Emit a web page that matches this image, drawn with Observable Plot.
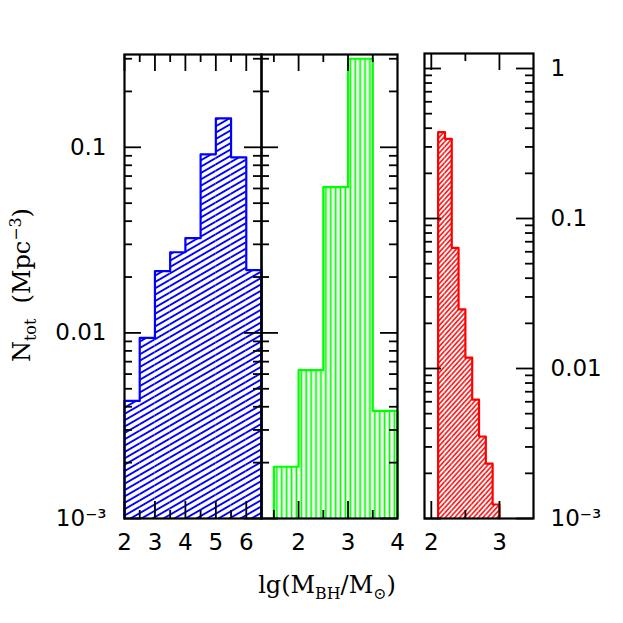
<!DOCTYPE html>
<html><head><meta charset="utf-8">
<script src="https://cdn.jsdelivr.net/npm/d3@7"></script>
<script src="https://cdn.jsdelivr.net/npm/@observablehq/plot@0.6"></script>
<style>
body{margin:0;background:#fff;}
#chart{position:relative;width:623px;height:623px;overflow:hidden;background:#fff;}
#chart svg{position:absolute;left:0;top:0;}
.title{position:absolute;font-family:"DejaVu Serif";font-size:24px;white-space:nowrap;color:#000;line-height:1;}
.title sub,.title sup{font-size:66%;line-height:0;}
</style></head><body>
<div id="chart"></div>
<script>
// ---- data ----
const blueEdges  = [2, 2.5, 3, 3.5, 4, 4.5, 5, 5.5, 6, 6.5];
const blueN      = [0.0043, 0.0094, 0.0215, 0.0272, 0.0324, 0.0916, 0.143, 0.0883, 0.0218];
const greenEdges = [1.5, 2, 2.5, 3, 3.5, 4];
const greenN     = [0.0019, 0.0063, 0.061, 0.30, 0.0038];
const redEdges   = [2.1, 2.2, 2.3, 2.4, 2.5, 2.6, 2.7, 2.8, 2.9, 3.0];
const redN       = [0.376, 0.34, 0.0638, 0.0248, 0.0118, 0.0062, 0.00352, 0.00232, 0.00124];

const xTicks1 = [2, 3, 4, 5, 6];
const xTicks2 = [2, 3, 4];
const xTicks3 = [2, 3];
const yLabelsLeft  = [0.001, 0.01, 0.1];
const yLabelsRight = [0.001, 0.01, 0.1, 1];

const W = 623, H = 623;
const chart = document.getElementById("chart");

function minorLog(lo, hi) {
  const out = [];
  for (let e = -4; e <= 1; e++) for (let m = 2; m <= 9; m++) {
    const v = m * Math.pow(10, e);
    if (v > lo && v < hi) out.push(v);
  }
  return out;
}
function fmtY(d) { return d === 0.001 ? "10\u207B\u00B3" : String(d); }

function panel(o) {
  const fw = o.right - o.left, fh = o.bottom - o.top;
  const bins = o.values.map((v, i) => ({x1: o.edges[i], x2: o.edges[i + 1], v}));
  const y0 = o.yDomain[0];
  const outline = [{x: o.edges[0], y: y0}, ...bins.map(b => ({x: b.x1, y: b.v})),
    {x: o.edges[o.edges.length - 1], y: o.values[o.values.length - 1]},
    {x: o.edges[o.edges.length - 1], y: y0}];
  const yMajor = [0.001, 0.01, 0.1, 1].filter(v => v >= o.yDomain[0] && v <= o.yDomain[1]);
  const yMinor = minorLog(o.yDomain[0], o.yDomain[1]);
  const MJ = 17, MN = 8, tw = 1.8;
  const marks = [
    Plot.rectY(bins, {x1: "x1", x2: "x2", y1: y0, y2: "v", fill: `url(#${o.id})`}),
    Plot.line(outline, {x: "x", y: "y", curve: "step-after", stroke: o.color, strokeWidth: 2.2}),
    // y ticks, both sides, inward
    Plot.tickY(yMajor, {y: d => d, insetRight: fw - MJ, strokeWidth: tw}),
    Plot.tickY(yMinor, {y: d => d, insetRight: fw - MN, strokeWidth: tw}),
    Plot.tickY(yMajor, {y: d => d, insetLeft: fw - MJ, strokeWidth: tw}),
    Plot.tickY(yMinor, {y: d => d, insetLeft: fw - MN, strokeWidth: tw}),
    // x ticks, top and bottom, inward
    Plot.tickX(o.xMajor, {x: d => d, insetTop: fh - MJ, strokeWidth: tw}),
    Plot.tickX(o.xMinor, {x: d => d, insetTop: fh - MN, strokeWidth: tw}),
    Plot.tickX(o.xMajor, {x: d => d, insetBottom: fh - MJ, strokeWidth: tw}),
    Plot.tickX(o.xMinor, {x: d => d, insetBottom: fh - MN, strokeWidth: tw}),
    Plot.axisX({anchor: "bottom", ticks: o.xLabels, tickSize: 0, tickPadding: 15, tickFormat: d => String(d), label: null, fontSize: 23}),
    Plot.frame({stroke: "black", strokeWidth: 2.2})
  ];
  if (o.yLabelSide) {
    marks.push(Plot.axisY({anchor: o.yLabelSide, ticks: o.yLabels, tickSize: 0,
      tickPadding: o.yLabelSide === "left" ? 18 : 17, tickFormat: fmtY, label: null, fontSize: 23}));
  }
  const svg = Plot.plot({
    width: W, height: H,
    marginLeft: o.left, marginRight: W - o.right, marginTop: o.top, marginBottom: H - o.bottom,
    x: {domain: o.xDomain},
    y: {type: "log", domain: o.yDomain, axis: o.yLabelSide ? undefined : null},
    style: {background: "transparent", overflow: "visible", fontFamily: "DejaVu Sans", fontSize: "23px", color: "black"},
    marks
  });
  const defs = d3.select(svg).insert("defs", ":first-child");
  const p = defs.append("pattern").attr("id", o.id).attr("patternUnits", "userSpaceOnUse")
    .attr("width", 12).attr("height", o.hatch.gap)
    .attr("patternTransform", `rotate(${o.hatch.angle})`);
  p.append("line").attr("x1", -1).attr("x2", 13).attr("y1", o.hatch.gap / 2).attr("y2", o.hatch.gap / 2)
    .attr("stroke", o.color).attr("stroke-width", o.hatch.width);
  chart.appendChild(svg);
}

panel({id: "hb", left: 124, right: 261, top: 54, bottom: 518, xDomain: [2, 6.5], yDomain: [0.001, Math.pow(10, -0.5)],
  edges: blueEdges, values: blueN, color: "#0000ff", hatch: {angle: -30, gap: 5.5, width: 1.9},
  xMajor: [2, 3, 4, 5, 6], xMinor: [2.5, 3.5, 4.5, 5.5], xLabels: xTicks1, yLabelSide: "left", yLabels: yLabelsLeft});
panel({id: "hg", left: 261, right: 397, top: 54, bottom: 518, xDomain: [1.25, 4], yDomain: [0.001, Math.pow(10, -0.5)],
  edges: greenEdges, values: greenN, color: "#00ff00", hatch: {angle: 90, gap: 4.9, width: 1.8},
  xMajor: [2, 3], xMinor: [1.5, 2.5, 3.5], xLabels: xTicks2, yLabelSide: null});
panel({id: "hr", left: 424, right: 533, top: 53, bottom: 518, xDomain: [1.9, 3.5], yDomain: [0.001, Math.pow(10, 0.1)],
  edges: redEdges, values: redN, color: "#ff0000", hatch: {angle: -48, gap: 3.5, width: 1.5},
  xMajor: [2, 3], xMinor: [2.5], xLabels: xTicks3, yLabelSide: "right", yLabels: yLabelsRight});

// axis titles
const yt = document.createElement("div");
yt.className = "title";
yt.innerHTML = "N<sub>tot</sub>&nbsp; (Mpc<sup>\u22123</sup>)";
yt.style.left = "22px"; yt.style.top = "285px";
yt.style.transform = "translate(-50%,-50%) rotate(-90deg)";
chart.appendChild(yt);
const xt = document.createElement("div");
xt.className = "title";
xt.innerHTML = "lg(M<sub>BH</sub>/M<sub>\u2299</sub>)";
xt.style.left = "327px"; xt.style.top = "585px";
xt.style.transform = "translate(-50%,-50%)";
chart.appendChild(xt);
</script>
</body></html>
